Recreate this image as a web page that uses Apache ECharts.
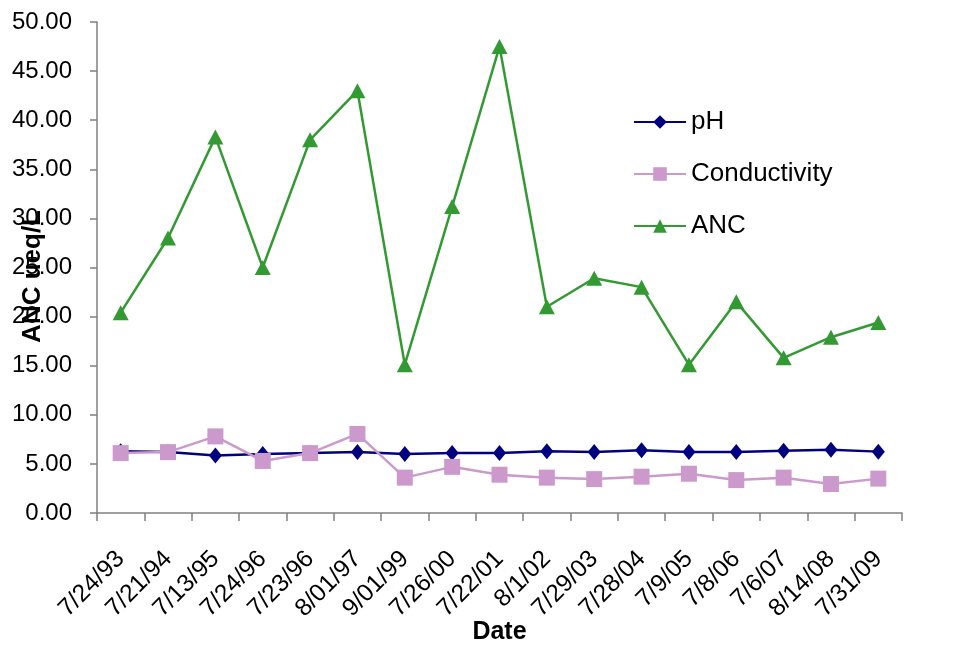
<!DOCTYPE html>
<html>
<head>
<meta charset="utf-8">
<script src="https://cdn.jsdelivr.net/npm/echarts@6/dist/echarts.min.js"></script>
<style>
  html, body { margin: 0; padding: 0; background: #fff; }
  #chart { width: 970px; height: 649px; }
</style>
</head>
<body>
<div id="chart"></div>
<script>
// Sampling dates
const dates = ['7/24/93', '7/21/94', '7/13/95', '7/24/96', '7/23/96', '8/01/97', '9/01/99', '7/26/00',
  '7/22/01', '8/1/02', '7/29/03', '7/28/04', '7/9/05', '7/8/06', '7/6/07', '8/14/08', '7/31/09'];

// Measured values per sampling date
const phValues = [6.3, 6.2, 5.85, 6.0, 6.1, 6.2, 6.0, 6.1, 6.1, 6.3, 6.2, 6.4, 6.2, 6.2, 6.35, 6.45, 6.25];
const conductivityValues = [6.1, 6.2, 7.8, 5.3, 6.1, 8.05, 3.6, 4.7, 3.9, 3.6, 3.45, 3.7, 4.0, 3.35, 3.6, 2.95, 3.5];
const ancValues = [20.4, 28.0, 38.3, 25.0, 38.0, 43.0, 15.1, 31.2, 47.5, 21.0, 23.9, 23.0, 15.1, 21.5, 15.8, 17.9, 19.4];

// Y-axis tick range
const yMin = 0, yMax = 50, yStep = 5;

const FONT = 'Liberation Sans, Arial, sans-serif';
const chart = echarts.init(document.getElementById('chart'), null, { renderer: 'canvas' });

function lineSeries(name, data, color, symbol, size) {
  return {
    name: name,
    type: 'line',
    data: data,
    symbol: symbol,
    symbolSize: size,
    showSymbol: true,
    lineStyle: { color: color, width: 2.5 },
    itemStyle: { color: color },
    emphasis: { disabled: true },
    animation: false
  };
}

chart.setOption({
  animation: false,
  backgroundColor: '#ffffff',
  grid: { left: 97, right: 68, top: 22, bottom: 136, containLabel: false, outerBoundsMode: 'none' },
  legend: {
    orient: 'vertical',
    left: 628,
    top: 104,
    itemWidth: 52,
    itemHeight: 17,
    itemGap: 26,
    textStyle: { fontFamily: FONT, fontSize: 26, color: '#000' },
    data: ['pH', 'Conductivity', 'ANC']
  },
  xAxis: {
    type: 'category',
    data: dates,
    boundaryGap: true,
    name: 'Date',
    nameLocation: 'middle',
    nameGap: 107,
    nameMoveOverlap: false,
    nameTextStyle: { fontFamily: FONT, fontSize: 25, fontWeight: 'bold', color: '#000' },
    axisLine: { show: true, lineStyle: { color: '#808080', width: 1.5 } },
    axisTick: { show: true, length: 8, alignWithLabel: false, lineStyle: { color: '#808080', width: 1.5 } },
    axisLabel: { rotate: 45, margin: 42, interval: 0, fontFamily: FONT, fontSize: 24.5, color: '#000' },
    splitLine: { show: false }
  },
  yAxis: {
    type: 'value',
    min: yMin,
    max: yMax,
    interval: yStep,
    axisLine: { show: true, lineStyle: { color: '#808080', width: 1.5 } },
    axisTick: { show: true, length: 7, inside: false, lineStyle: { color: '#808080', width: 1.5 } },
    axisLabel: {
      margin: 25,
      fontFamily: FONT,
      fontSize: 24,
      color: '#000',
      formatter: v => v.toFixed(2)
    },
    splitLine: { show: false }
  },
  graphic: [{
    type: 'text',
    left: 20,
    top: 210,
    rotation: Math.PI / 2,
    style: {
      text: 'ANC ueq/L',
      font: 'bold 26px ' + FONT,
      fill: '#000'
    }
  }],
  series: [
    lineSeries('pH', phValues, '#000080', 'diamond', [13, 16]),
    lineSeries('Conductivity', conductivityValues, '#cc99cc', 'rect', 16),
    lineSeries('ANC', ancValues, '#339933', 'triangle', [16, 15])
  ]
});
</script>
</body>
</html>
